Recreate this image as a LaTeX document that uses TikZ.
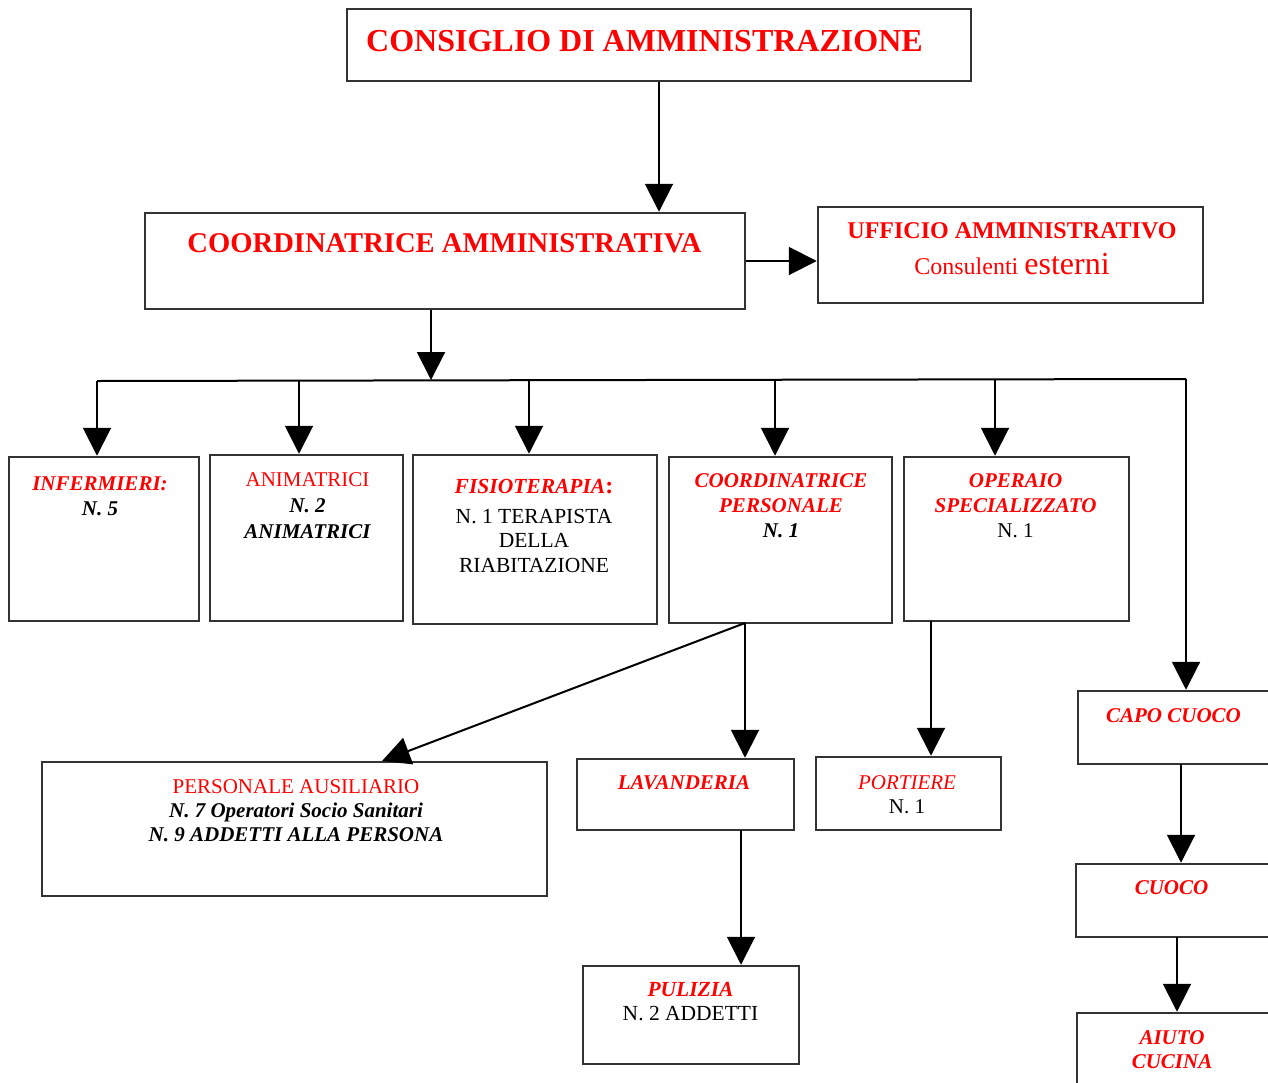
\documentclass[tikz,border=0pt]{standalone}
\usepackage{fontspec}
\setmainfont{Liberation Serif}
\usetikzlibrary{arrows.meta}
\definecolor{boxgray}{HTML}{333333}
\definecolor{orgred}{RGB}{255,0,0}
\newcommand{\bi}[1]{{\bfseries\itshape #1}}
\newcommand{\rd}[1]{\textcolor{orgred}{#1}}
\tikzset{
  box/.style={draw=boxgray, line width=2.5pt, inner sep=0pt, rectangle},
  txt/.style={anchor=base, align=center, inner sep=0pt, font=\fontsize{21}{25}\selectfont},
  link/.style={line width=2pt, -{Triangle[length=28pt, width=28pt]}},
  busline/.style={line width=2pt}
}

\begin{document}
\begin{tikzpicture}[x=1pt, y=-1pt]
		%%%%% START %%%%%
		\useasboundingbox (0,0) rectangle (1268,1082);
		\clip (0,0) rectangle (1268,1082);
		
		% top levels (text nodes sit on the baseline of their last line)
		\node[box, minimum width=624pt, minimum height=72pt] (cons) at (659,45) {};
		\node[txt, font=\bfseries\fontsize{32}{38}\selectfont, text=orgred] (cons-t) at (644.5,51) {CONSIGLIO DI AMMINISTRAZIONE};
		
		\node[box, minimum width=600pt, minimum height=96pt] (camm) at (445,261) {};
		\node[txt, font=\bfseries\fontsize{28.6}{34}\selectfont, text=orgred] (camm-t) at (444.5,252) {COORDINATRICE AMMINISTRATIVA};
		
		\node[box, minimum width=385pt, minimum height=96pt] (uff) at (1010.5,255) {};
		\node[txt, font=\fontsize{24}{36}\selectfont, text=orgred] (uff-t) at (1012,274) {{\bfseries UFFICIO AMMINISTRATIVO}\\Consulenti {\fontsize{32}{36}\selectfont esterni}};
		
		% second row
		\node[box, minimum width=190pt, minimum height=164pt] (inf) at (104,539) {};
		\node[txt, font=\bfseries\itshape\fontsize{21}{24.5}\selectfont] (inf-t) at (100,515) {\rd{INFERMIERI:}\\N. 5};
		
		\node[box, minimum width=193pt, minimum height=166pt] (anim) at (306.5,538) {};
		\node[txt, font=\fontsize{21}{26}\selectfont] (anim-t) at (307.5,538) {\rd{ANIMATRICI}\\\bi{N. 2}\\\bi{ANIMATRICI}};
		
		\node[box, minimum width=244pt, minimum height=169pt] (fis) at (535,539.5) {};
		\node[txt, font=\fontsize{21.5}{24.5}\selectfont] (fis-t) at (534,572) {\rd{\bi{FISIOTERAPIA}{\bfseries\fontsize{24}{24}\selectfont:}}\\[5.5pt]N. 1 TERAPISTA\\DELLA\\RIABITAZIONE};
		
		\node[box, minimum width=223pt, minimum height=166pt] (cpers) at (780.5,540) {};
		\node[txt, font=\bfseries\itshape\fontsize{21}{25}\selectfont] (cpers-t) at (781,537) {\rd{COORDINATRICE}\\\rd{PERSONALE}\\N. 1};
		
		\node[box, minimum width=225pt, minimum height=164pt] (op) at (1016.5,539) {};
		\node[txt, font=\fontsize{21}{25}\selectfont] (op-t) at (1015.5,537) {\rd{\bi{OPERAIO}}\\\rd{\bi{SPECIALIZZATO}}\\N. 1};
		
		% lower boxes
		\node[box, minimum width=505pt, minimum height=134pt] (aus) at (294.5,829) {};
		\node[txt, font=\fontsize{21}{24}\selectfont] (aus-t) at (296,841) {\rd{PERSONALE AUSILIARIO}\\\bi{N. 7 Operatori Socio Sanitari}\\\bi{N. 9 ADDETTI ALLA PERSONA}};
		
		\node[box, minimum width=217pt, minimum height=71pt] (lav) at (685.5,794.5) {};
		\node[txt, font=\bfseries\itshape\fontsize{21}{24}\selectfont, text=orgred] (lav-t) at (684,789) {LAVANDERIA};
		
		\node[box, minimum width=185pt, minimum height=73pt] (port) at (908.5,793.5) {};
		\node[txt, font=\fontsize{21}{24}\selectfont] (port-t) at (907,813) {\rd{\itshape PORTIERE}\\N. 1};
		
		\node[box, minimum width=216pt, minimum height=98pt] (pul) at (691,1015) {};
		\node[txt, font=\fontsize{21.5}{24}\selectfont] (pul-t) at (690.5,1020) {\rd{\bi{PULIZIA}}\\N. 2 ADDETTI};
		
		% kitchen column
		\node[box, minimum width=220pt, minimum height=73pt] (capo) at (1188,727.5) {};
		\node[txt, font=\bfseries\itshape\fontsize{21}{24}\selectfont, text=orgred] (capo-t) at (1173.5,722) {CAPO CUOCO};
		
		\node[box, minimum width=220pt, minimum height=73pt] (cuoco) at (1186,900.5) {};
		\node[txt, font=\bfseries\itshape\fontsize{21}{24}\selectfont, text=orgred] (cuoco-t) at (1171.5,894) {CUOCO};
		
		\node[box, minimum width=220pt, minimum height=97pt] (aiuto) at (1187,1061.5) {};
		\node[txt, font=\bfseries\itshape\fontsize{21}{24}\selectfont, text=orgred] (aiuto-t) at (1172,1068) {AIUTO\\CUCINA};
		
		% connectors
		\draw[link] (cons.south) -- (cons.south |- camm.north);
		\draw[link] (camm.east) -- (camm.east -| uff.west);
		
		\coordinate (busin) at (431,380);
		\draw[link] (camm.south -| busin) -- (busin);
		
		\coordinate (b1) at (97,381);
		\coordinate (b2) at (299,381);
		\coordinate (b3) at (529,381);
		\coordinate (b4) at (775,380);
		\coordinate (b5) at (995,380);
		\coordinate (b6) at (1186,379);
		\draw[busline] (b1) -- (b6);
		\draw[link] (b1) -- (b1 |- inf.north);
		\draw[link] (b2) -- (b2 |- anim.north);
		\draw[link] (b3) -- (b3 |- fis.north);
		\draw[link] (b4) -- (b4 |- cpers.north);
		\draw[link] (b5) -- (b5 |- op.north);
		\draw[link] (b6) -- (b6 |- capo.north);
		
		\coordinate (cpo) at (745,623);
		\coordinate (ausin) at (382,761);
		\draw[link] (cpo) -- (ausin);
		\draw[link] (cpo) -- (cpo |- lav.north);
		
		\coordinate (opo) at (931,621);
		\draw[link] (opo) -- (opo |- port.north);
		
		\coordinate (lavo) at (741,830);
		\draw[link] (lavo) -- (lavo |- pul.north);
		
		\coordinate (capoo) at (1181,764);
		\draw[link] (capoo) -- (capoo |- cuoco.north);
		
		\coordinate (cuocoo) at (1177,937);
		\draw[link] (cuocoo) -- (cuocoo |- aiuto.north);
		%%%%% END %%%%%
\end{tikzpicture}
\end{document}
